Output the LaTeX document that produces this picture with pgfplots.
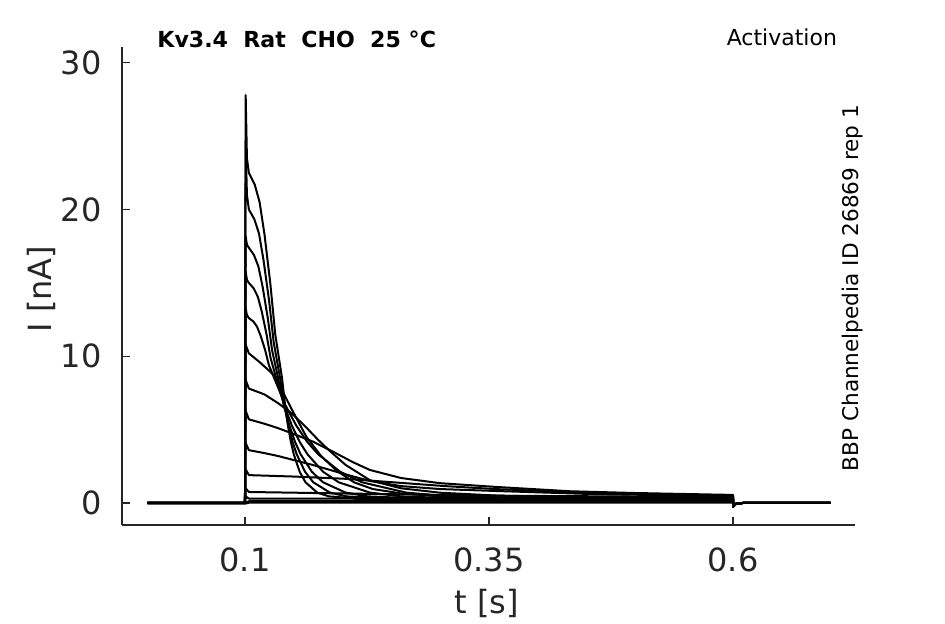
\documentclass[border=0pt]{standalone}
\usepackage{fontspec}
\setmainfont{DejaVu Sans}
\usepackage{pgfplots}
\pgfplotsset{compat=1.18}
\definecolor{axgray}{RGB}{38,38,38}
\begin{document}
\begin{tikzpicture}
\useasboundingbox (-61pt,-49.5pt) rectangle (411.5pt,262.5pt);
\begin{axis}[at={(0,0)}, anchor=south west, scale only axis,
  width=366.5pt, height=239pt,
  xmin=-0.026, xmax=0.725, ymin=-1.5, ymax=31.08,
  axis x line*=bottom, axis y line*=left,
  axis line style={axgray, line width=0.6pt},
  xtick={0.1,0.35,0.6}, xticklabels={0.1,0.35,0.6},
  ytick={0,10,20,30}, yticklabels={0,10,20,30},
  tick align=inside, major tick length=4pt,
  tick style={axgray, line width=0.6pt},
  ticklabel style={font=\fontsize{16}{19}\selectfont, text=axgray},
  xticklabel style={anchor=base, yshift=-23.35pt, inner sep=0pt},
  yticklabel style={anchor=east, xshift=-10pt, inner sep=0pt},
  /pgf/number format/assume math mode=true,
  no markers,
  every axis plot post/.append style={black, solid, mark=none, line width=1pt, line join=round},
  clip=false,
]
% K1
\addplot coordinates {(0,0)(0.1,0)(0.1007,27.8)(0.102,23.5)(0.104,22.5)(0.110,21.7)(0.115,20.5)(0.120,18.3)(0.126,14.94)(0.131,11.5)(0.138,8.5)(0.141,6.69)(0.144,5.28)(0.147,4.17)(0.150,3.32)(0.156,2.13)(0.162,1.41)(0.174,0.71)(0.186,0.45)(0.21,0.33)(0.35,0.28)(0.6,0.22)(0.6,-0.25)(0.603,-0.05)(0.61,0)(0.7,0)};
% K2
\addplot coordinates {(0,0)(0.1,0)(0.1006,24.7)(0.102,21)(0.104,20)(0.1096,19.34)(0.1144,18.36)(0.119,16.55)(0.1247,13.79)(0.1294,10.96)(0.136,8.5)(0.14025,6.69)(0.1445,5.28)(0.14875,4.17)(0.153,3.32)(0.1615,2.13)(0.170,1.41)(0.187,0.71)(0.204,0.45)(0.24,0.33)(0.4,0.27)(0.6,0.24)(0.6,-0.25)(0.603,-0.05)(0.61,0)(0.7,0)};
% K3
\addplot coordinates {(0,0)(0.1,0)(0.1006,18.2)(0.102,17.6)(0.104,17.4)(0.1093,16.89)(0.1137,16.13)(0.1181,14.73)(0.1234,12.59)(0.1278,10.4)(0.134,8.5)(0.13975,6.69)(0.1455,5.28)(0.15125,4.17)(0.157,3.32)(0.1685,2.13)(0.180,1.41)(0.203,0.71)(0.226,0.45)(0.27,0.33)(0.4,0.28)(0.6,0.25)(0.6,-0.25)(0.603,-0.05)(0.61,0)(0.7,0)};
% K4
\addplot coordinates {(0,0)(0.1,0)(0.1006,15.8)(0.102,15.2)(0.104,15)(0.1089,14.63)(0.1131,14.07)(0.1172,13.05)(0.1221,11.49)(0.1262,9.89)(0.132,8.5)(0.140,6.69)(0.148,5.28)(0.156,4.17)(0.164,3.32)(0.180,2.13)(0.196,1.41)(0.228,0.71)(0.260,0.45)(0.31,0.33)(0.45,0.28)(0.6,0.26)(0.6,-0.25)(0.603,-0.05)(0.61,0)(0.7,0)};
% K5
\addplot coordinates {(0,0)(0.1,0)(0.1006,13.3)(0.102,12.8)(0.104,12.6)(0.1086,12.37)(0.1124,12.01)(0.1162,11.37)(0.1208,10.39)(0.1246,9.38)(0.130,8.5)(0.14125,6.69)(0.1525,5.28)(0.16375,4.17)(0.175,3.32)(0.1975,2.13)(0.22,1.41)(0.265,0.71)(0.31,0.45)(0.38,0.34)(0.45,0.3)(0.6,0.28)(0.6,-0.25)(0.603,-0.05)(0.61,0)(0.7,0)};
% K6
\addplot coordinates {(0,0)(0.1,0)(0.1006,10.8)(0.104,10.2)(0.115,9.6)(0.125,9.0)(0.131,8.6)(0.147,6.5)(0.163,4.5)(0.178,3.2)(0.194,2.2)(0.212,1.4)(0.231,0.95)(0.26,0.65)(0.3,0.45)(0.4,0.35)(0.6,0.3)(0.6,-0.25)(0.603,-0.05)(0.61,0)(0.7,0)};
% S1
\addplot coordinates {(0,0)(0.1,0)(0.1006,8.4)(0.104,7.8)(0.12,7.4)(0.134,6.8)(0.148,6.1)(0.162,5.2)(0.175,4.3)(0.186,3.6)(0.203,2.6)(0.228,1.55)(0.26,1.0)(0.3,0.7)(0.36,0.5)(0.45,0.4)(0.6,0.32)(0.6,-0.25)(0.603,-0.05)(0.61,0)(0.7,0)};
% S2
\addplot coordinates {(0,0)(0.1,0)(0.1006,6.3)(0.104,5.7)(0.12,5.4)(0.134,5.1)(0.15,4.7)(0.169,4.2)(0.193,3.4)(0.21,2.8)(0.228,2.25)(0.26,1.7)(0.30,1.35)(0.356,1.1)(0.433,0.8)(0.5,0.68)(0.6,0.55)(0.6,-0.25)(0.603,-0.05)(0.61,0)(0.7,0)};
% S3
\addplot coordinates {(0,0)(0.1,0)(0.1006,4.1)(0.104,3.6)(0.12,3.4)(0.134,3.2)(0.169,2.6)(0.203,1.95)(0.228,1.5)(0.26,1.15)(0.3,0.95)(0.356,0.82)(0.45,0.62)(0.6,0.45)(0.6,-0.25)(0.603,-0.05)(0.61,0)(0.7,0)};
% S4
\addplot coordinates {(0,0)(0.1,0)(0.1006,2.3)(0.104,1.9)(0.151,1.8)(0.2025,1.65)(0.254,1.4)(0.305,1.15)(0.356,0.95)(0.45,0.7)(0.6,0.5)(0.6,-0.25)(0.603,-0.05)(0.61,0)(0.7,0)};
% S5
\addplot coordinates {(0,0)(0.1,0)(0.1006,1.0)(0.104,0.75)(0.2,0.65)(0.35,0.5)(0.6,0.4)(0.6,-0.25)(0.603,-0.05)(0.61,0)(0.7,0)};
% F1
\addplot coordinates {(0,0)(0.1,0)(0.1006,0.45)(0.104,0.3)(0.3,0.28)(0.6,0.25)(0.6,-0.25)(0.603,-0.05)(0.61,0)(0.7,0)};
% F2
\addplot coordinates {(0,0)(0.1,0)(0.104,0.12)(0.6,0.12)(0.6,-0.2)(0.603,-0.05)(0.61,0)(0.7,0)};
% F3
\addplot coordinates {(0,-0.05)(0.1,-0.05)(0.104,0.02)(0.6,0.02)(0.6,-0.2)(0.603,-0.05)(0.61,0)(0.7,0)};
\end{axis}
\node[anchor=base west, inner sep=0pt, font=\fontsize{11.05}{13}\selectfont\bfseries] at (17.5pt,238.8pt) {Kv3.4\ \ Rat\ \ CHO\ \ 25 °C};
\node[anchor=base east, inner sep=0pt, font=\fontsize{11}{13}\selectfont] at (357.65pt,239.5pt) {Activation};
\node[rotate=90, anchor=base, inner sep=0pt, font=\fontsize{10.8}{13}\selectfont] at (368pt,118.5pt) {BBP Channelpedia ID 26869 rep 1};
\node[rotate=90, anchor=base, inner sep=0pt, font=\fontsize{16}{19}\selectfont, text=axgray] at (-35pt,118pt) {I [nA]};
\node[anchor=base, inner sep=0pt, font=\fontsize{16}{19}\selectfont, text=axgray] at (182.5pt,-44.25pt) {t [s]};
\end{tikzpicture}
\end{document}
